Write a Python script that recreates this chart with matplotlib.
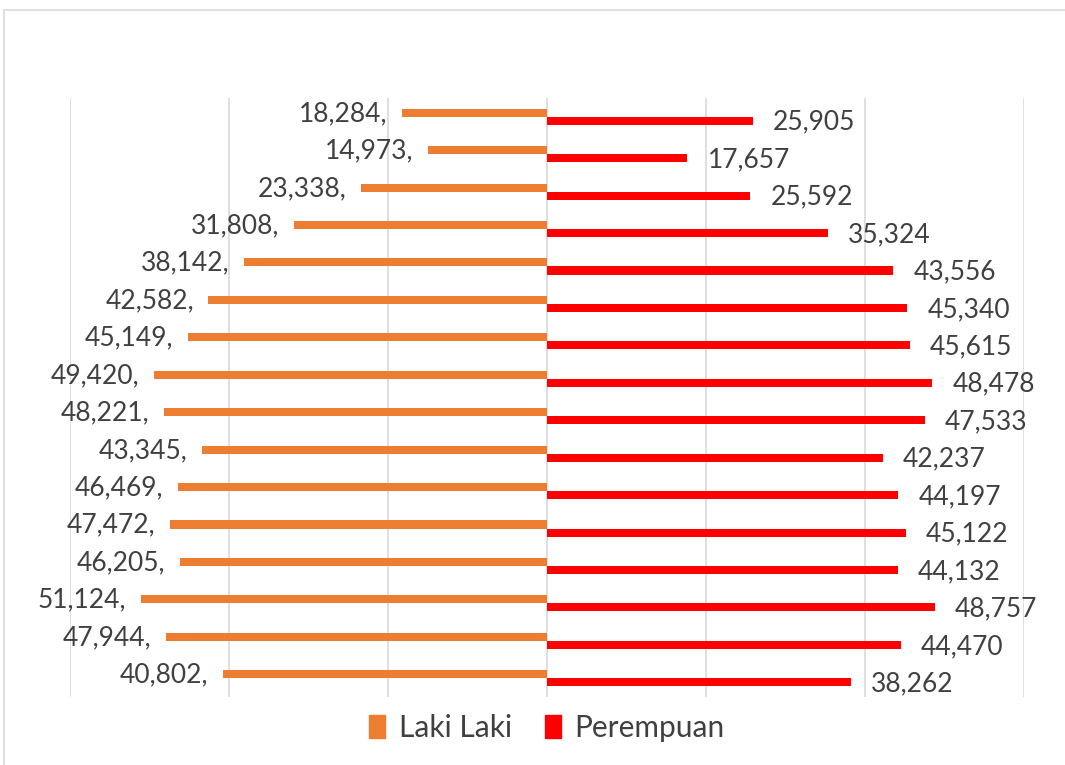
import matplotlib.pyplot as plt
from matplotlib.patches import Rectangle, Patch
import numpy as np

plt.rcParams['font.family'] = ['Lato', 'DejaVu Sans']

laki = [18284, 14973, 23338, 31808, 38142, 42582, 45149, 49420,
        48221, 43345, 46469, 47472, 46205, 51124, 47944, 40802]
perempuan = [25905, 17657, 25592, 35324, 43556, 45340, 45615, 48478,
             47533, 42237, 44197, 45122, 44132, 48757, 44470, 38262]

orange = '#ED7D31'
red = '#FF0000'
text_col = '#404040'

W, H = 1065, 765
fig = plt.figure(figsize=(W / 100, H / 100), dpi=100)
ax = fig.add_axes([70 / W, 1 - 697 / H, (1024 - 70) / W, (697 - 98) / H])

# outer chart border
fig.patches.append(Rectangle((4 / W, -0.1), 1.2, 1 - 10 / H + 0.1,
                             transform=fig.transFigure, fill=False,
                             edgecolor='#D9D9D9', linewidth=1.2))

y = np.arange(len(laki))
h = 0.215
ax.barh(y - h / 2, [-v for v in laki], height=h, color=orange, zorder=3)
ax.barh(y + h / 2, perempuan, height=h, color=red, zorder=3)

for i, v in enumerate(laki):
    ax.annotate(f"{v:,},", (-v, i - h / 2 + 0.02), xytext=(-10.5, 0),
                textcoords='offset points', ha='right', va='center',
                fontsize=19, color=text_col)
for i, v in enumerate(perempuan):
    ax.annotate(f"{v:,}", (v, i + h / 2 + 0.04), xytext=(14.5, 0),
                textcoords='offset points', ha='left', va='center',
                fontsize=19, color=text_col)

ax.set_xlim(-60000, 60000)
ax.set_ylim(len(laki) - 0.5, -0.5)
ax.set_xticks(np.arange(-60000, 60001, 20000))
ax.set_yticks([])
ax.tick_params(axis='x', length=0, labelbottom=False)
ax.grid(axis='x', color='#D9D9D9', linewidth=1.2, zorder=0)
for s in ax.spines.values():
    s.set_visible(False)

handles = [Patch(color=orange, label='Laki Laki'), Patch(color=red, label='Perempuan')]
fig.legend(handles=handles, loc='center', bbox_to_anchor=(547 / W, 1 - 728 / H),
           ncol=2, frameon=False, fontsize=21.5, handlelength=0.55, handleheight=0.8,
           handletextpad=0.45, columnspacing=1.1, labelcolor=text_col)

fig.savefig('out.png', dpi=100)
